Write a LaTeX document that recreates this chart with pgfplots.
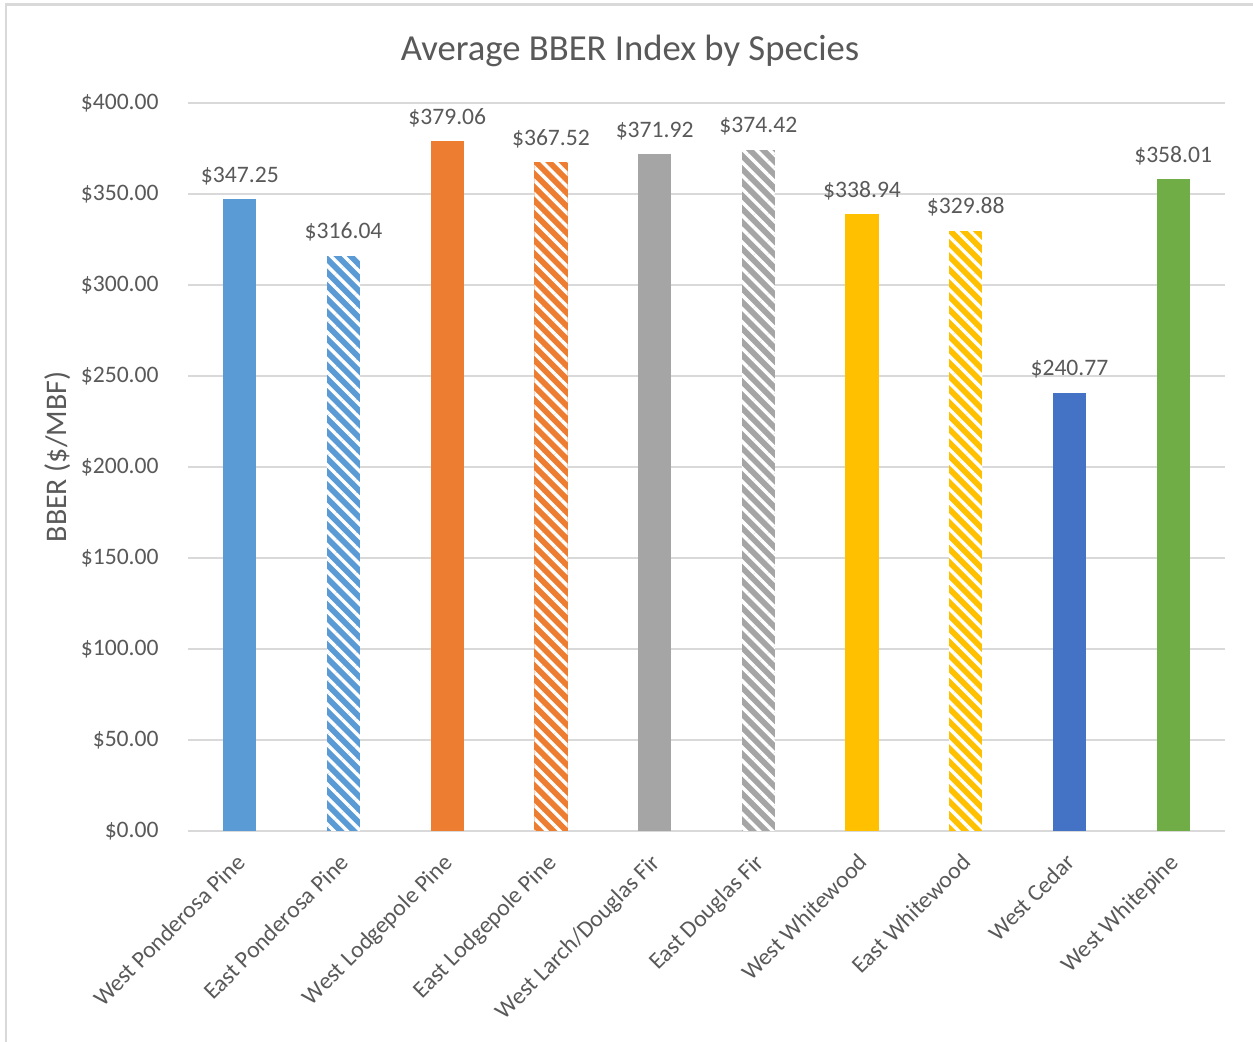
\documentclass[border=0pt]{standalone}
\usepackage{fontspec}
\setmainfont{Carlito}
\usepackage{pgfplots}
\pgfplotsset{compat=1.18}
\usetikzlibrary{patterns.meta}
\definecolor{txt}{HTML}{595959}
\definecolor{gridc}{HTML}{D9D9D9}
\definecolor{cA}{HTML}{5B9BD5}
\definecolor{cB}{HTML}{ED7D31}
\definecolor{cC}{HTML}{A5A5A5}
\definecolor{cD}{HTML}{FFC000}
\definecolor{cE}{HTML}{4472C4}
\definecolor{cF}{HTML}{70AD47}
\tikzset{hatch/.style={postaction={pattern={Lines[angle=-45,distance=4.7bp,line width=1.7bp]}, pattern color=white}}}
\begin{document}
\begin{tikzpicture}
\useasboundingbox (0,0) rectangle (626.5bp,521bp);
\fill[white] (0,0) rectangle (626.5bp,521bp);
\draw[color=gridc, line width=1.2bp] (3bp,0) -- (3bp,518.75bp) -- (626.5bp,518.75bp);
\node[font=\fontsize{18.4}{22}\selectfont, color=txt] at (315bp,495.5bp) {Average BBER Index by Species};
\node[font=\fontsize{15}{18}\selectfont, color=txt, rotate=90] at (29bp,292.5bp) {BBER (\$/MBF)};
\begin{axis}[
  at={(94bp,105.5bp)}, anchor=south west, scale only axis,
  width=518.5bp, height=364bp,
  xmin=-0.5, xmax=9.5, ymin=0, ymax=400,
  ybar, bar width=0.32, bar shift=0pt,
  axis line style={draw=none},
  ytick={0,50,...,400},
  ymajorgrids, grid style={color=gridc, line width=0.75bp},
  major tick length=0pt,
  xtick={0,...,9},
  xticklabels={West Ponderosa Pine, East Ponderosa Pine, West Lodgepole Pine, East Lodgepole Pine, West Larch/Douglas Fir, East Douglas Fir, West Whitewood, East Whitewood, West Cedar, West Whitepine},
  tick label style={font=\fontsize{11.85}{14}\selectfont, color=txt},
  xticklabel style={xshift=-2.5bp, yshift=-10.5bp, rotate=45, anchor=north east, inner sep=0pt},
  yticklabel style={anchor=east, inner sep=0pt, xshift=-14.5bp},
  /pgf/number format/assume math mode=true,
  yticklabel={\$\pgfmathprintnumber[fixed,fixed zerofill,precision=2]{\tick}},
  nodes near coords, point meta=explicit symbolic,
  every node near coord/.append style={font=\fontsize{11.85}{14}\selectfont, color=txt, anchor=base, inner sep=0pt, yshift=8.5bp},
]
\addplot[fill=cA, draw=none] coordinates {(0,347.25) [\$347.25]};
\addplot[fill=cA, draw=none, hatch] coordinates {(1,316.04) [\$316.04]};
\addplot[fill=cB, draw=none] coordinates {(2,379.06) [\$379.06]};
\addplot[fill=cB, draw=none, hatch] coordinates {(3,367.52) [\$367.52]};
\addplot[fill=cC, draw=none] coordinates {(4,371.92) [\$371.92]};
\addplot[fill=cC, draw=none, hatch] coordinates {(5,374.42) [\$374.42]};
\addplot[fill=cD, draw=none] coordinates {(6,338.94) [\$338.94]};
\addplot[fill=cD, draw=none, hatch] coordinates {(7,329.88) [\$329.88]};
\addplot[fill=cE, draw=none] coordinates {(8,240.77) [\$240.77]};
\addplot[fill=cF, draw=none] coordinates {(9,358.01) [\$358.01]};
\end{axis}
\end{tikzpicture}
\end{document}
